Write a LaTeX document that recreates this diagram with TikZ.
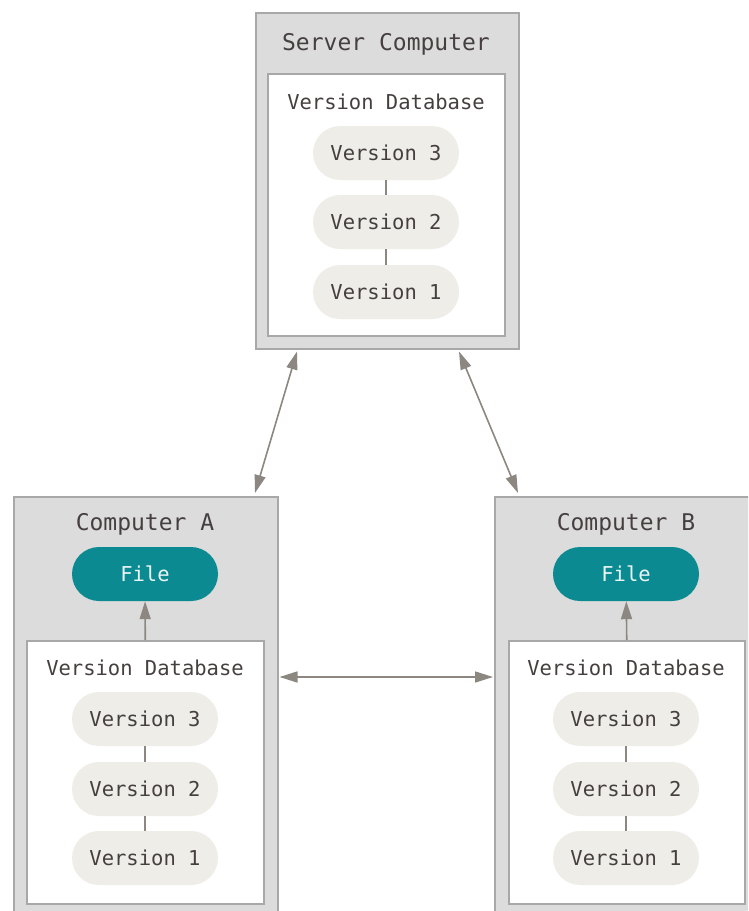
\documentclass[tikz,border=0pt]{standalone}
\usepackage{fontspec}
\newfontfamily\boxfont{DejaVu Sans Mono}
\usetikzlibrary{arrows.meta}

\definecolor{boxgray}{HTML}{DCDCDC}
\definecolor{boxline}{HTML}{A8A8A8}
\definecolor{pillfill}{HTML}{EEEDE7}
\definecolor{filefill}{HTML}{0B8A92}
\definecolor{inkgray}{HTML}{463F3F}
\definecolor{arrowgray}{HTML}{8C8781}

\tikzset{
  machine/.style={draw=boxline, fill=boxgray, line width=1.5pt, inner sep=0pt, anchor=north west},
  vdb/.style={draw=boxline, fill=white, line width=1.5pt, inner sep=0pt, anchor=north west},
  version/.style={fill=pillfill, rounded corners=27pt, minimum width=146pt, minimum height=54pt,
    inner sep=0pt, text=inkgray, font=\boxfont\fontsize{20.5}{24}\selectfont},
  workfile/.style={version, fill=filefill, text=white!92!filefill},
  machinetitle/.style={text=inkgray, font=\boxfont\fontsize{23}{27}\selectfont},
  dbtitle/.style={text=inkgray, font=\boxfont\fontsize{20.5}{24}\selectfont},
  sync/.style={draw=arrowgray, line width=1.6pt, {Triangle[length=18pt,width=11pt]}-{Triangle[length=18pt,width=11pt]}},
  checkout/.style={draw=arrowgray, line width=1.6pt, -{Triangle[length=18pt,width=11pt]}},
  link/.style={draw=arrowgray, line width=1.2pt}
}

\begin{document}
\begin{tikzpicture}[x=1pt, y=-1pt]
    \useasboundingbox (0,0) rectangle (748,911);
    \clip (0,0) rectangle (748,911);
    \fill[white] (0,0) rectangle (748,911);

    %%%%% server %%%%%
    \node[machine, minimum width=263pt, minimum height=336pt] (server) at (255,12) {};
    \node[machinetitle] (server-title) at (386,44) {Server Computer};
    \node[vdb, minimum width=237pt, minimum height=262pt] (server-db) at (267,73) {};
    \node[dbtitle] (server-dbtitle) at (386,102) {Version Database};
    \foreach \v/\y in {3/153, 2/222, 1/292}
        \node[version] (server-v\v) at (386,\y) {Version \v};
    \draw[link] (server-v3) -- (server-v2);
    \draw[link] (server-v2) -- (server-v1);

    %%%%% computer A %%%%%
    \node[machine, minimum width=264pt, minimum height=430pt] (compA) at (13,496) {};
    \node[machinetitle] (compA-title) at (145,524) {Computer A};
    \node[workfile] (compA-file) at (145,574) {File};
    \node[vdb, minimum width=237pt, minimum height=263pt] (compA-db) at (26,640) {};
    \node[dbtitle] (compA-dbtitle) at (145,668) {Version Database};
    \foreach \v/\y in {3/719, 2/789, 1/858}
        \node[version] (compA-v\v) at (145,\y) {Version \v};
    \draw[link] (compA-v3) -- (compA-v2);
    \draw[link] (compA-v2) -- (compA-v1);
    \draw[checkout] (compA-db.north) -- (compA-file);

    %%%%% computer B %%%%%
    \node[machine, minimum width=270pt, minimum height=430pt] (compB) at (494,496) {};
    \node[machinetitle] (compB-title) at (626,524) {Computer B};
    \node[workfile] (compB-file) at (626,574) {File};
    \node[vdb, minimum width=236pt, minimum height=263pt] (compB-db) at (508,640) {};
    \node[dbtitle] (compB-dbtitle) at (626,668) {Version Database};
    \foreach \v/\y in {3/719, 2/789, 1/858}
        \node[version] (compB-v\v) at (626,\y) {Version \v};
    \draw[link] (compB-v3) -- (compB-v2);
    \draw[link] (compB-v2) -- (compB-v1);
    \draw[checkout] (compB-db.north) -- (compB-file);

    %%%%% sync arrows %%%%%
    \draw[sync] ([shift={(42,2)}]server.south west) -- ([shift={(242,-3)}]compA.north west);
    \draw[sync] ([shift={(204,2)}]server.south west) -- ([shift={(24,-3)}]compB.north west);
    \draw[sync] ([shift={(1,181)}]compA.north east) -- ([shift={(-1,181)}]compB.north west);
\end{tikzpicture}
\end{document}
